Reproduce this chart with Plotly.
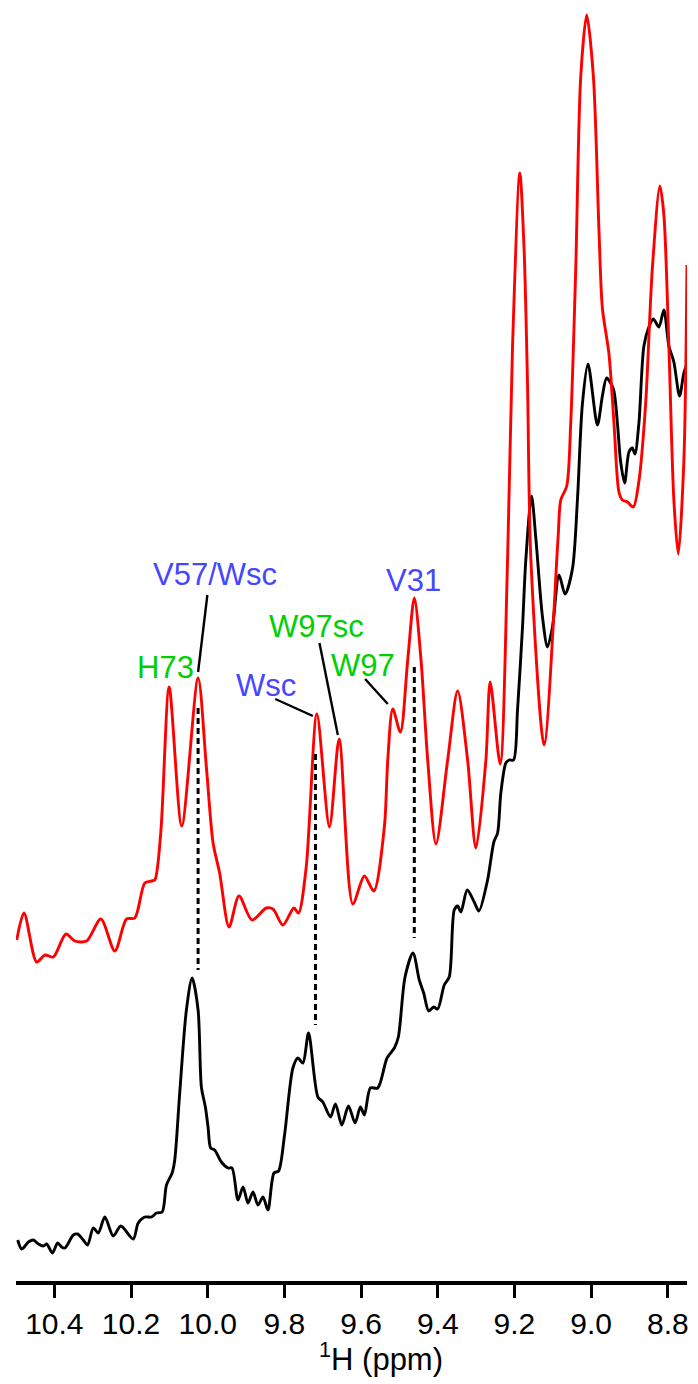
import plotly.graph_objects as go

# 1H NMR spectra (arbitrary intensity units), chemical shift in ppm
red_ppm = [10.4981, 10.4791, 10.4461, 10.4245, 10.4026, 10.3698, 10.3464, 10.3159, 10.2787,
           10.2422, 10.2118, 10.1902, 10.1641, 10.1467, 10.1381, 10.1225, 10.1006, 10.0678,
           10.0251, 10.0035, 9.9860, 9.9689, 9.9444, 9.9184, 9.8845, 9.8473, 9.8298, 9.8038,
           9.7752, 9.7632, 9.7431, 9.7153, 9.6825, 9.6572, 9.6216, 9.5914, 9.5669, 9.5393,
           9.5304, 9.5174, 9.4976, 9.4784, 9.4612, 9.4437, 9.4263, 9.4047, 9.3742, 9.3482,
           9.3222, 9.3005, 9.2745, 9.2633, 9.2373, 9.2180, 9.2050, 9.1860, 9.1748, 9.1659,
           9.1573, 9.1227, 9.0863, 9.0792, 9.0636, 9.0532, 9.0402, 9.0272, 9.0116, 8.9941,
           8.9795, 8.9707, 8.9535, 8.9405, 8.9275, 8.9186, 8.9056, 8.8900, 8.8754, 8.8579,
           8.8405, 8.8207, 8.8103, 8.7973, 8.7843, 8.7728, 8.7582, 8.7500]
red_int = [341, 368, 319, 326, 324, 347, 340, 340, 362,
           330, 362, 363, 398, 400, 401, 448, 594, 455,
           603, 514, 438, 408, 354, 385, 361, 373, 372, 356,
           373, 368, 414, 567, 454, 542, 377, 405, 390, 454,
           521, 572, 549, 621, 683, 621, 521, 437, 521, 590,
           521, 433, 521, 599, 517, 721, 935, 1108, 1031, 896,
           723, 536, 743, 781, 795, 858, 1012, 1204, 1266, 1204,
           1050, 973, 927, 858, 789, 781, 779, 774, 800, 877,
           1012, 1095, 1066, 935, 781, 727, 820, 1016]

black_ppm = [10.4955, 10.4851, 10.4677, 10.4547, 10.4417, 10.4286, 10.4200, 10.4052, 10.3914,
             10.3810, 10.3724, 10.3505, 10.3393, 10.3245, 10.3133, 10.2985, 10.2854, 10.2683,
             10.2464, 10.2266, 10.1943, 10.1813, 10.1641, 10.1467, 10.1337, 10.1188, 10.1076,
             10.0928, 10.0860, 10.0730, 10.0556, 10.0407, 10.0251, 10.0165, 10.0061, 9.9991,
             9.9923, 9.9819, 9.9644, 9.9470, 9.9366, 9.9210, 9.9079, 9.8949, 9.8819, 9.8689,
             9.8559, 9.8429, 9.8272, 9.8153, 9.7996, 9.7778, 9.7647, 9.7517, 9.7371, 9.7127,
             9.6997, 9.6799, 9.6668, 9.6502, 9.6330, 9.6156, 9.6018, 9.5914, 9.5757, 9.5565,
             9.5323, 9.5132, 9.5028, 9.4854, 9.4646, 9.4482, 9.4367, 9.4237, 9.4107, 9.4003,
             9.3831, 9.3701, 9.3570, 9.3482, 9.3396, 9.3232, 9.3050, 9.2927, 9.2701, 9.2537,
             9.2440, 9.2355, 9.2224, 9.2138, 9.2024, 9.1920, 9.1790, 9.1704, 9.1555, 9.1443,
             9.1269, 9.1139, 9.1009, 9.0837, 9.0681, 9.0488, 9.0358, 9.0228, 9.0082, 8.9837,
             8.9707, 8.9595, 8.9420, 8.9316, 8.9230, 8.9126, 8.9014, 8.8926, 8.8858, 8.8754,
             8.8624, 8.8494, 8.8379, 8.8233, 8.8103, 8.7973, 8.7843, 8.7694, 8.7582, 8.7500]
black_int = [41, 32, 39, 41, 37, 35, 37, 28, 38,
             34, 33, 46, 47, 41, 36, 53, 48, 64,
             45, 55, 42, 58, 64, 64, 68, 69, 96,
             108, 121, 188, 271, 303, 271, 194, 174, 154,
             133, 131, 119, 113, 113, 81, 94, 78, 89, 76,
             84, 71, 108, 110, 146, 213, 223, 218, 248, 184,
             179, 164, 177, 156, 175, 158, 174, 166, 193, 193,
             223, 233, 244, 304, 328, 301, 288, 270, 274, 272,
             296, 304, 371, 375, 369, 391, 379, 370, 401, 439,
             448, 488, 518, 521, 521, 571, 654, 721, 785, 743,
             664, 634, 654, 706, 687, 712, 781, 877, 917, 856,
             885, 903, 892, 858, 819, 798, 829, 833, 827, 858,
             935, 954, 962, 954, 971, 935, 919, 885, 908, 917]

# Peak assignments: label, position, colour
label_text = ["V57/Wsc", "H73", "Wsc", "W97sc", "W97", "V31"]
label_ppm = [9.9801, 10.1108, 9.8473, 9.7150, 9.5947, 9.4633]
label_int = [707, 614, 596, 655, 616, 701]
label_color = ["#4646ff", "#00d000", "#4646ff", "#00d000", "#00d000", "#4646ff"]

# Leader lines from labels to peaks: (ppm0, int0, ppm1, int1)
leader_lines = [(10.0009, 686, 10.0251, 609),
                (9.8238, 582, 9.7257, 565),
                (9.7085, 638, 9.6606, 546),
                (9.5895, 602, 9.5304, 577)]

# Dotted correlation lines between the two spectra: (ppm, top, bottom)
link_lines = [(10.0251, 573, 311),
              (9.7190, 527, 256),
              (9.4612, 614, 343)]

tick_vals = [10.4, 10.2, 10.0, 9.8, 9.6, 9.4, 9.2, 9.0, 8.8]
tick_text = ["10.4", "10.2", "10.0", "9.8", "9.6", "9.4", "9.2", "9.0", "8.8"]

FONT = "Liberation Sans, Arial, sans-serif"

fig = go.Figure()
fig.add_trace(go.Scatter(x=black_ppm, y=black_int, mode="lines",
                         line=dict(color="black", width=2.9, shape="spline", smoothing=0.8),
                         hoverinfo="skip", showlegend=False))
fig.add_trace(go.Scatter(x=red_ppm, y=red_int, mode="lines",
                         line=dict(color="#ff0000", width=2.9, shape="spline", smoothing=0.8),
                         hoverinfo="skip", showlegend=False))

for x0, y0, x1, y1 in leader_lines:
    fig.add_shape(type="line", xref="x", yref="y", x0=x0, y0=y0, x1=x1, y1=y1,
                  line=dict(color="black", width=2.4))

for x, ytop, ybot in link_lines:
    fig.add_shape(type="line", xref="x", yref="y", x0=x, y0=ytop, x1=x, y1=ybot,
                  line=dict(color="black", width=3, dash="6px,4px"))

for t, x, y, c in zip(label_text, label_ppm, label_int, label_color):
    fig.add_annotation(x=x, y=y, xref="x", yref="y", text=t, showarrow=False,
                       xanchor="center", yanchor="middle",
                       font=dict(family=FONT, size=31, color=c))

fig.add_annotation(x=9.549, xref="x", y=0, yref="paper", yshift=-76,
                   text="<sup>1</sup>H (ppm)", showarrow=False,
                   xanchor="center", yanchor="middle",
                   font=dict(family=FONT, size=31, color="black"))

fig.update_layout(
    width=698, height=1384,
    margin=dict(l=16, r=11, t=0, b=103),
    paper_bgcolor="white", plot_bgcolor="white",
    xaxis=dict(range=[10.5, 8.75], showgrid=False, zeroline=False,
               showline=True, linecolor="black", linewidth=4,
               ticks="outside", ticklen=13, tickwidth=2.5, tickcolor="black",
               tickvals=tick_vals, ticktext=tick_text,
               tickfont=dict(family=FONT, size=30, color="black")),
    yaxis=dict(range=[0, 1281], visible=False, showgrid=False, zeroline=False),
)

fig.write_html("out.html")
